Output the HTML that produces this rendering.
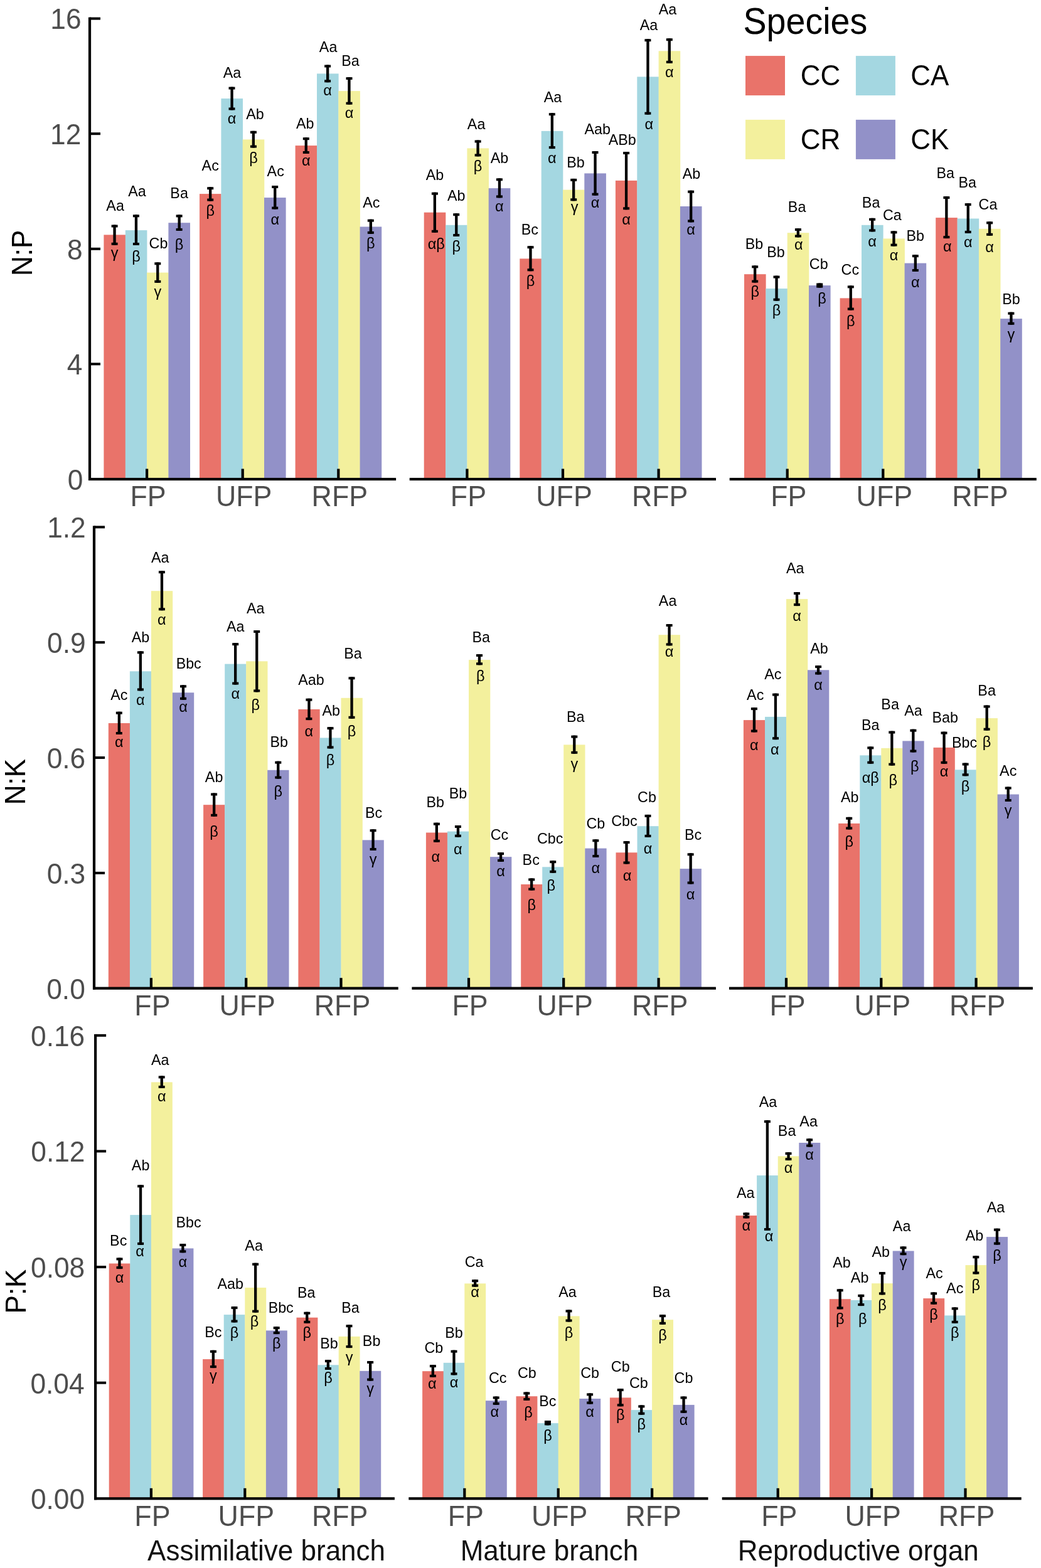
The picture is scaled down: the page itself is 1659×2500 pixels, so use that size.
<!DOCTYPE html>
<html><head><meta charset="utf-8"><title>N:P, N:K and P:K ratios</title>
<style>
html,body{margin:0;padding:0;background:#fff;}
svg{display:block;}
text{font-family:"Liberation Sans",Arial,Helvetica,sans-serif;}
.l{font-size:23.3px;text-anchor:middle;fill:#000;}
.g{font-size:23.5px;text-anchor:middle;fill:#000;}
.t{font-size:44.3px;text-anchor:end;fill:#4D4D4D;}
.x{font-size:44.7px;text-anchor:middle;fill:#4D4D4D;}
.yt{font-size:44px;text-anchor:middle;fill:#000;}
.lgt{font-size:55.6px;fill:#000;}
.lg{font-size:44px;fill:#000;}
.bt{font-size:44px;fill:#111;}
</style></head>
<body>
<svg xmlns="http://www.w3.org/2000/svg" width="1659" height="2500" viewBox="0 0 1659 2500">
<rect width="1659" height="2500" fill="#fff"/>
<g fill="#000">
<rect x="165.4" y="374.4" width="34.6" height="389.6" fill="#E9736A"/>
<rect x="199.8" y="367.1" width="34.6" height="396.9" fill="#A4D7E1"/>
<rect x="234.1" y="434.6" width="34.6" height="329.4" fill="#F3F09D"/>
<rect x="268.4" y="355.2" width="34.6" height="408.8" fill="#9291C8"/>
<rect x="318" y="309.1" width="34.6" height="454.9" fill="#E9736A"/>
<rect x="352.4" y="157.1" width="34.6" height="606.9" fill="#A4D7E1"/>
<rect x="386.7" y="222.4" width="34.6" height="541.6" fill="#F3F09D"/>
<rect x="421" y="315.1" width="34.6" height="448.9" fill="#9291C8"/>
<rect x="470.6" y="232.1" width="34.6" height="531.9" fill="#E9736A"/>
<rect x="505" y="117.4" width="34.6" height="646.6" fill="#A4D7E1"/>
<rect x="539.3" y="145.1" width="34.6" height="618.9" fill="#F3F09D"/>
<rect x="573.6" y="361.5" width="34.6" height="402.5" fill="#9291C8"/>
<rect x="675.7" y="338.7" width="34.6" height="425.3" fill="#E9736A"/>
<rect x="710.1" y="358.8" width="34.6" height="405.2" fill="#A4D7E1"/>
<rect x="744.4" y="236.4" width="34.6" height="527.6" fill="#F3F09D"/>
<rect x="778.7" y="300.1" width="34.6" height="463.9" fill="#9291C8"/>
<rect x="828.3" y="412.4" width="34.6" height="351.6" fill="#E9736A"/>
<rect x="862.7" y="208.9" width="34.6" height="555.1" fill="#A4D7E1"/>
<rect x="897" y="302.6" width="34.6" height="461.4" fill="#F3F09D"/>
<rect x="931.3" y="276.4" width="34.6" height="487.6" fill="#9291C8"/>
<rect x="980.9" y="287.9" width="34.6" height="476.1" fill="#E9736A"/>
<rect x="1015.3" y="122.4" width="34.6" height="641.6" fill="#A4D7E1"/>
<rect x="1049.6" y="81.3" width="34.6" height="682.7" fill="#F3F09D"/>
<rect x="1083.9" y="329" width="34.6" height="435" fill="#9291C8"/>
<rect x="1186" y="437.2" width="34.6" height="326.8" fill="#E9736A"/>
<rect x="1220.4" y="460.1" width="34.6" height="303.9" fill="#A4D7E1"/>
<rect x="1254.7" y="371.2" width="34.6" height="392.8" fill="#F3F09D"/>
<rect x="1289" y="455.1" width="34.6" height="308.9" fill="#9291C8"/>
<rect x="1338.6" y="475.4" width="34.6" height="288.6" fill="#E9736A"/>
<rect x="1373" y="358.8" width="34.6" height="405.2" fill="#A4D7E1"/>
<rect x="1407.3" y="380.4" width="34.6" height="383.6" fill="#F3F09D"/>
<rect x="1441.6" y="419.6" width="34.6" height="344.4" fill="#9291C8"/>
<rect x="1491.2" y="347.1" width="34.6" height="416.9" fill="#E9736A"/>
<rect x="1525.6" y="348.5" width="34.6" height="415.5" fill="#A4D7E1"/>
<rect x="1559.9" y="364.8" width="34.6" height="399.2" fill="#F3F09D"/>
<rect x="1594.2" y="508.1" width="34.6" height="255.9" fill="#9291C8"/>
<rect x="180.4" y="358.5" width="4.3" height="32.3"/>
<rect x="177.6" y="358.5" width="10" height="4"/>
<rect x="177.6" y="386.8" width="10" height="4"/>
<text class="l" transform="translate(183.6,336.4) scale(1,1.035)">Aa</text>
<text class="g" x="182.6" y="411.1">γ</text>
<rect x="214.8" y="342.3" width="4.3" height="48.7"/>
<rect x="211.9" y="342.3" width="10" height="4"/>
<rect x="211.9" y="387" width="10" height="4"/>
<text class="l" transform="translate(218.4,312.6) scale(1,1.035)">Aa</text>
<text class="g" x="216.9" y="416.7">β</text>
<rect x="249.1" y="418.3" width="4.3" height="32.6"/>
<rect x="246.3" y="418.3" width="10" height="4"/>
<rect x="246.3" y="446.9" width="10" height="4"/>
<text class="l" transform="translate(252.5,396.3) scale(1,1.035)">Cb</text>
<text class="g" x="251.3" y="473.4">γ</text>
<rect x="283.5" y="342.4" width="4.3" height="25.6"/>
<rect x="280.6" y="342.4" width="10" height="4"/>
<rect x="280.6" y="364" width="10" height="4"/>
<text class="l" transform="translate(285.6,316.2) scale(1,1.035)">Ba</text>
<text class="g" x="285.6" y="397.5">β</text>
<rect x="333" y="298.2" width="4.3" height="22.4"/>
<rect x="330.2" y="298.2" width="10" height="4"/>
<rect x="330.2" y="316.6" width="10" height="4"/>
<text class="l" transform="translate(335.2,271.7) scale(1,1.035)">Ac</text>
<text class="g" x="335.2" y="344.2">β</text>
<rect x="367.4" y="138.6" width="4.3" height="36.9"/>
<rect x="364.5" y="138.6" width="10" height="4"/>
<rect x="364.5" y="171.5" width="10" height="4"/>
<text class="l" transform="translate(370,123.5) scale(1,1.035)">Aa</text>
<text class="g" x="369.5" y="197.3">α</text>
<rect x="401.7" y="208.8" width="4.3" height="26.8"/>
<rect x="398.9" y="208.8" width="10" height="4"/>
<rect x="398.9" y="231.6" width="10" height="4"/>
<text class="l" transform="translate(406.4,190.4) scale(1,1.035)">Ab</text>
<text class="g" x="403.9" y="260">β</text>
<rect x="436.1" y="296" width="4.3" height="37.6"/>
<rect x="433.2" y="296" width="10" height="4"/>
<rect x="433.2" y="329.6" width="10" height="4"/>
<text class="l" transform="translate(439.2,280.9) scale(1,1.035)">Ac</text>
<text class="g" x="438.2" y="358.1">α</text>
<rect x="485.6" y="219.2" width="4.3" height="25.8"/>
<rect x="482.8" y="219.2" width="10" height="4"/>
<rect x="482.8" y="241" width="10" height="4"/>
<text class="l" transform="translate(486.3,204.9) scale(1,1.035)">Ab</text>
<text class="g" x="487.8" y="263.8">α</text>
<rect x="520" y="103.5" width="4.3" height="27.8"/>
<rect x="517.1" y="103.5" width="10" height="4"/>
<rect x="517.1" y="127.3" width="10" height="4"/>
<text class="l" transform="translate(523.1,83) scale(1,1.035)">Aa</text>
<text class="g" x="522.1" y="152">α</text>
<rect x="554.3" y="123.1" width="4.3" height="43.6"/>
<rect x="551.5" y="123.1" width="10" height="4"/>
<rect x="551.5" y="162.7" width="10" height="4"/>
<text class="l" transform="translate(558.5,105) scale(1,1.035)">Ba</text>
<text class="g" x="556.5" y="187.9">α</text>
<rect x="588.7" y="349.7" width="4.3" height="23.2"/>
<rect x="585.8" y="349.7" width="10" height="4"/>
<rect x="585.8" y="368.9" width="10" height="4"/>
<text class="l" transform="translate(591.8,330.9) scale(1,1.035)">Ac</text>
<text class="g" x="590.8" y="395.7">β</text>
<rect x="690.7" y="306.7" width="4.3" height="64.1"/>
<rect x="687.9" y="306.7" width="10" height="4"/>
<rect x="687.9" y="366.8" width="10" height="4"/>
<text class="l" transform="translate(692.9,287.1) scale(1,1.035)">Ab</text>
<text class="g" x="695.2" y="396.9">αβ</text>
<rect x="725.1" y="340.2" width="4.3" height="36.8"/>
<rect x="722.2" y="340.2" width="10" height="4"/>
<rect x="722.2" y="373" width="10" height="4"/>
<text class="l" transform="translate(727.2,320) scale(1,1.035)">Ab</text>
<text class="g" x="727.2" y="400.7">β</text>
<rect x="759.4" y="223.5" width="4.3" height="25.9"/>
<rect x="756.6" y="223.5" width="10" height="4"/>
<rect x="756.6" y="245.4" width="10" height="4"/>
<text class="l" transform="translate(759.1,205.8) scale(1,1.035)">Aa</text>
<text class="g" x="761.6" y="272.6">β</text>
<rect x="793.8" y="284.3" width="4.3" height="31.1"/>
<rect x="790.9" y="284.3" width="10" height="4"/>
<rect x="790.9" y="311.4" width="10" height="4"/>
<text class="l" transform="translate(795.9,259.9) scale(1,1.035)">Ab</text>
<text class="g" x="795.9" y="337">α</text>
<rect x="843.3" y="392.2" width="4.3" height="40.1"/>
<rect x="840.5" y="392.2" width="10" height="4"/>
<rect x="840.5" y="428.3" width="10" height="4"/>
<text class="l" transform="translate(844.3,373.8) scale(1,1.035)">Bc</text>
<text class="g" x="845.5" y="456.2">β</text>
<rect x="877.7" y="180.2" width="4.3" height="56.9"/>
<rect x="874.8" y="180.2" width="10" height="4"/>
<rect x="874.8" y="233.1" width="10" height="4"/>
<text class="l" transform="translate(881,163) scale(1,1.035)">Aa</text>
<text class="g" x="879.8" y="259.8">α</text>
<rect x="912" y="284.9" width="4.3" height="35.4"/>
<rect x="909.2" y="284.9" width="10" height="4"/>
<rect x="909.2" y="316.3" width="10" height="4"/>
<text class="l" transform="translate(917.5,266.8) scale(1,1.035)">Bb</text>
<text class="g" x="915.7" y="337.9">γ</text>
<rect x="946.4" y="241" width="4.3" height="70.7"/>
<rect x="943.5" y="241" width="10" height="4"/>
<rect x="943.5" y="307.7" width="10" height="4"/>
<text class="l" transform="translate(952.2,214.2) scale(1,1.035)">Aab</text>
<text class="g" x="948.5" y="331">α</text>
<rect x="995.9" y="242" width="4.3" height="92.3"/>
<rect x="993.1" y="242" width="10" height="4"/>
<rect x="993.1" y="330.3" width="10" height="4"/>
<text class="l" transform="translate(991.8,230.5) scale(1,1.035)">ABb</text>
<text class="g" x="998.1" y="357.9">α</text>
<rect x="1030.3" y="62.2" width="4.3" height="120.5"/>
<rect x="1027.4" y="62.2" width="10" height="4"/>
<rect x="1027.4" y="178.7" width="10" height="4"/>
<text class="l" transform="translate(1033.9,48.3) scale(1,1.035)">Aa</text>
<text class="g" x="1034.4" y="205.8">α</text>
<rect x="1064.6" y="61.2" width="4.3" height="39.7"/>
<rect x="1061.8" y="61.2" width="10" height="4"/>
<rect x="1061.8" y="96.9" width="10" height="4"/>
<text class="l" transform="translate(1064,23) scale(1,1.035)">Aa</text>
<text class="g" x="1066.8" y="122.6">α</text>
<rect x="1099" y="303.7" width="4.3" height="50.7"/>
<rect x="1096.1" y="303.7" width="10" height="4"/>
<rect x="1096.1" y="350.4" width="10" height="4"/>
<text class="l" transform="translate(1101.9,284.5) scale(1,1.035)">Ab</text>
<text class="g" x="1101.1" y="374.1">α</text>
<rect x="1201" y="423.4" width="4.3" height="27.2"/>
<rect x="1198.2" y="423.4" width="10" height="4"/>
<rect x="1198.2" y="446.6" width="10" height="4"/>
<text class="l" transform="translate(1202,397.1) scale(1,1.035)">Bb</text>
<text class="g" x="1203.2" y="473.3">β</text>
<rect x="1235.4" y="439.6" width="4.3" height="40.1"/>
<rect x="1232.5" y="439.6" width="10" height="4"/>
<rect x="1232.5" y="475.7" width="10" height="4"/>
<text class="l" transform="translate(1236.5,410) scale(1,1.035)">Bb</text>
<text class="g" x="1237.5" y="503">β</text>
<rect x="1269.7" y="364.1" width="4.3" height="14.3"/>
<rect x="1266.9" y="364.1" width="10" height="4"/>
<rect x="1266.9" y="374.4" width="10" height="4"/>
<text class="l" transform="translate(1270.1,338.2) scale(1,1.035)">Ba</text>
<text class="g" x="1272.9" y="398.2">α</text>
<rect x="1304.1" y="451.5" width="4.3" height="7.2"/>
<rect x="1301.2" y="451.5" width="10" height="4"/>
<rect x="1301.2" y="454.7" width="10" height="4"/>
<text class="l" transform="translate(1304.7,429.1) scale(1,1.035)">Cb</text>
<text class="g" x="1310" y="484.3">β</text>
<rect x="1353.6" y="455.4" width="4.3" height="39.2"/>
<rect x="1350.8" y="455.4" width="10" height="4"/>
<rect x="1350.8" y="490.6" width="10" height="4"/>
<text class="l" transform="translate(1354.8,438.2) scale(1,1.035)">Cc</text>
<text class="g" x="1355.8" y="519.7">β</text>
<rect x="1388" y="347.8" width="4.3" height="21.6"/>
<rect x="1385.1" y="347.8" width="10" height="4"/>
<rect x="1385.1" y="365.4" width="10" height="4"/>
<text class="l" transform="translate(1388.1,331.1) scale(1,1.035)">Ba</text>
<text class="g" x="1390.1" y="393">α</text>
<rect x="1422.3" y="368.4" width="4.3" height="24.2"/>
<rect x="1419.5" y="368.4" width="10" height="4"/>
<rect x="1419.5" y="388.6" width="10" height="4"/>
<text class="l" transform="translate(1421.9,351.2) scale(1,1.035)">Ca</text>
<text class="g" x="1424.5" y="414.5">α</text>
<rect x="1456.7" y="406.2" width="4.3" height="26.8"/>
<rect x="1453.8" y="406.2" width="10" height="4"/>
<rect x="1453.8" y="429" width="10" height="4"/>
<text class="l" transform="translate(1458.8,384.2) scale(1,1.035)">Bb</text>
<text class="g" x="1458.8" y="457.9">α</text>
<rect x="1506.2" y="313.1" width="4.3" height="67"/>
<rect x="1503.4" y="313.1" width="10" height="4"/>
<rect x="1503.4" y="376.1" width="10" height="4"/>
<text class="l" transform="translate(1506.7,284.4) scale(1,1.035)">Ba</text>
<text class="g" x="1509.9" y="401.3">α</text>
<rect x="1540.6" y="324.1" width="4.3" height="47.8"/>
<rect x="1537.7" y="324.1" width="10" height="4"/>
<rect x="1537.7" y="367.9" width="10" height="4"/>
<text class="l" transform="translate(1541.7,299.2) scale(1,1.035)">Ba</text>
<text class="g" x="1542.7" y="393.6">α</text>
<rect x="1574.9" y="353.3" width="4.3" height="22.5"/>
<rect x="1572.1" y="353.3" width="10" height="4"/>
<rect x="1572.1" y="371.8" width="10" height="4"/>
<text class="l" transform="translate(1574.5,333.7) scale(1,1.035)">Ca</text>
<text class="g" x="1577.1" y="401.7">α</text>
<rect x="1609.3" y="497.7" width="4.3" height="20.1"/>
<rect x="1606.4" y="497.7" width="10" height="4"/>
<rect x="1606.4" y="513.8" width="10" height="4"/>
<text class="l" transform="translate(1611.4,484.6) scale(1,1.035)">Bb</text>
<text class="g" x="1611.4" y="541.4">γ</text>
<rect x="140.9" y="27.6" width="4.2" height="738.4"/>
<text class="t" transform="translate(132.5,780.8) scale(1,1.03)">0</text>
<rect x="143" y="578.4" width="17" height="4"/>
<text class="t" transform="translate(131.3,597.2) scale(1,1.03)">4</text>
<rect x="143" y="394.8" width="17" height="4"/>
<text class="t" transform="translate(131.7,413.6) scale(1,1.03)">8</text>
<rect x="143" y="211.2" width="17" height="4"/>
<text class="t" transform="translate(129.3,230) scale(1,1.03)">12</text>
<rect x="143" y="27.6" width="17" height="4"/>
<text class="t" transform="translate(129.6,46.4) scale(1,1.03)">16</text>
<rect x="141" y="761.9" width="490.1" height="4.2"/>
<rect x="232" y="747.5" width="4.2" height="16.5"/>
<text class="x" transform="translate(236.1,807) scale(1,1.025)">FP</text>
<rect x="384.6" y="747.5" width="4.2" height="16.5"/>
<text class="x" transform="translate(388.7,807) scale(1,1.025)">UFP</text>
<rect x="537.2" y="747.5" width="4.2" height="16.5"/>
<text class="x" transform="translate(541.3,807) scale(1,1.025)">RFP</text>
<rect x="652.7" y="761.9" width="488.3" height="4.2"/>
<rect x="742.3" y="747.5" width="4.2" height="16.5"/>
<text class="x" transform="translate(746.4,807) scale(1,1.025)">FP</text>
<rect x="894.9" y="747.5" width="4.2" height="16.5"/>
<text class="x" transform="translate(899,807) scale(1,1.025)">UFP</text>
<rect x="1047.5" y="747.5" width="4.2" height="16.5"/>
<text class="x" transform="translate(1051.6,807) scale(1,1.025)">RFP</text>
<rect x="1162.7" y="761.9" width="489.1" height="4.2"/>
<rect x="1252.6" y="747.5" width="4.2" height="16.5"/>
<text class="x" transform="translate(1256.7,807) scale(1,1.025)">FP</text>
<rect x="1405.2" y="747.5" width="4.2" height="16.5"/>
<text class="x" transform="translate(1409.3,807) scale(1,1.025)">UFP</text>
<rect x="1557.8" y="747.5" width="4.2" height="16.5"/>
<text class="x" transform="translate(1561.9,807) scale(1,1.025)">RFP</text>
<text class="yt" transform="translate(50.5,403.4) rotate(-90) scale(1,1.04)">N:P</text>
<rect x="172.8" y="1153" width="34.3" height="422.7" fill="#E9736A"/>
<rect x="206.9" y="1070.3" width="34.3" height="505.4" fill="#A4D7E1"/>
<rect x="240.9" y="942.2" width="34.3" height="633.5" fill="#F3F09D"/>
<rect x="274.9" y="1104.3" width="34.3" height="471.4" fill="#9291C8"/>
<rect x="324.1" y="1283.2" width="34.3" height="292.5" fill="#E9736A"/>
<rect x="358.2" y="1058.6" width="34.3" height="517.1" fill="#A4D7E1"/>
<rect x="392.2" y="1054.3" width="34.3" height="521.4" fill="#F3F09D"/>
<rect x="426.2" y="1227.8" width="34.3" height="347.9" fill="#9291C8"/>
<rect x="475.4" y="1130.9" width="34.3" height="444.8" fill="#E9736A"/>
<rect x="509.5" y="1176.4" width="34.3" height="399.3" fill="#A4D7E1"/>
<rect x="543.5" y="1112.8" width="34.3" height="462.9" fill="#F3F09D"/>
<rect x="577.5" y="1339.4" width="34.3" height="236.3" fill="#9291C8"/>
<rect x="678.9" y="1327.5" width="34.3" height="248.2" fill="#E9736A"/>
<rect x="712.9" y="1325.6" width="34.3" height="250.1" fill="#A4D7E1"/>
<rect x="747" y="1052.1" width="34.3" height="523.6" fill="#F3F09D"/>
<rect x="781" y="1366.2" width="34.3" height="209.5" fill="#9291C8"/>
<rect x="830.2" y="1410" width="34.3" height="165.7" fill="#E9736A"/>
<rect x="864.2" y="1382.3" width="34.3" height="193.4" fill="#A4D7E1"/>
<rect x="898.2" y="1187.4" width="34.3" height="388.3" fill="#F3F09D"/>
<rect x="932.3" y="1352.6" width="34.3" height="223.1" fill="#9291C8"/>
<rect x="981.5" y="1359.3" width="34.3" height="216.4" fill="#E9736A"/>
<rect x="1015.5" y="1317.2" width="34.3" height="258.5" fill="#A4D7E1"/>
<rect x="1049.6" y="1012.2" width="34.3" height="563.5" fill="#F3F09D"/>
<rect x="1083.6" y="1385.1" width="34.3" height="190.6" fill="#9291C8"/>
<rect x="1184.9" y="1148.1" width="34.3" height="427.6" fill="#E9736A"/>
<rect x="1219" y="1142.9" width="34.3" height="432.8" fill="#A4D7E1"/>
<rect x="1253" y="955.1" width="34.3" height="620.6" fill="#F3F09D"/>
<rect x="1287" y="1068.3" width="34.3" height="507.4" fill="#9291C8"/>
<rect x="1336.2" y="1312.9" width="34.3" height="262.8" fill="#E9736A"/>
<rect x="1370.3" y="1204.3" width="34.3" height="371.4" fill="#A4D7E1"/>
<rect x="1404.3" y="1192.8" width="34.3" height="382.9" fill="#F3F09D"/>
<rect x="1438.3" y="1181.4" width="34.3" height="394.3" fill="#9291C8"/>
<rect x="1487.5" y="1191.9" width="34.3" height="383.8" fill="#E9736A"/>
<rect x="1521.6" y="1227.3" width="34.3" height="348.4" fill="#A4D7E1"/>
<rect x="1555.6" y="1145.1" width="34.3" height="430.6" fill="#F3F09D"/>
<rect x="1589.6" y="1266.5" width="34.3" height="309.2" fill="#9291C8"/>
<rect x="187.7" y="1134.7" width="4.3" height="36.3"/>
<rect x="184.8" y="1134.7" width="10" height="4"/>
<rect x="184.8" y="1167" width="10" height="4"/>
<text class="l" transform="translate(189.8,1115.8) scale(1,1.035)">Ac</text>
<text class="g" x="189.8" y="1191.3">α</text>
<rect x="221.7" y="1038.3" width="4.3" height="63.1"/>
<rect x="218.9" y="1038.3" width="10" height="4"/>
<rect x="218.9" y="1097.4" width="10" height="4"/>
<text class="l" transform="translate(223.9,1023.9) scale(1,1.035)">Ab</text>
<text class="g" x="223.9" y="1123.6">α</text>
<rect x="255.8" y="910.2" width="4.3" height="63.1"/>
<rect x="252.9" y="910.2" width="10" height="4"/>
<rect x="252.9" y="969.3" width="10" height="4"/>
<text class="l" transform="translate(255.3,897.3) scale(1,1.035)">Aa</text>
<text class="g" x="257.9" y="995.5">α</text>
<rect x="289.8" y="1092.3" width="4.3" height="23.5"/>
<rect x="287" y="1092.3" width="10" height="4"/>
<rect x="287" y="1111.8" width="10" height="4"/>
<text class="l" transform="translate(300.7,1066) scale(1,1.035)">Bbc</text>
<text class="g" x="292" y="1134.6">α</text>
<rect x="339" y="1264.5" width="4.3" height="37.3"/>
<rect x="336.1" y="1264.5" width="10" height="4"/>
<rect x="336.1" y="1297.8" width="10" height="4"/>
<text class="l" transform="translate(341.1,1247.3) scale(1,1.035)">Ab</text>
<text class="g" x="341.1" y="1334.1">β</text>
<rect x="373" y="1025.1" width="4.3" height="66.5"/>
<rect x="370.2" y="1025.1" width="10" height="4"/>
<rect x="370.2" y="1087.6" width="10" height="4"/>
<text class="l" transform="translate(375.2,1006.9) scale(1,1.035)">Aa</text>
<text class="g" x="375.2" y="1114.1">α</text>
<rect x="407.1" y="1005" width="4.3" height="98.4"/>
<rect x="404.2" y="1005" width="10" height="4"/>
<rect x="404.2" y="1099.4" width="10" height="4"/>
<text class="l" transform="translate(407.2,977.7) scale(1,1.035)">Aa</text>
<text class="g" x="407.2" y="1131.9">β</text>
<rect x="441.1" y="1213.7" width="4.3" height="27.9"/>
<rect x="438.3" y="1213.7" width="10" height="4"/>
<rect x="438.3" y="1237.6" width="10" height="4"/>
<text class="l" transform="translate(444.8,1191) scale(1,1.035)">Bb</text>
<text class="g" x="443.3" y="1270">β</text>
<rect x="490.3" y="1113.7" width="4.3" height="34.4"/>
<rect x="487.4" y="1113.7" width="10" height="4"/>
<rect x="487.4" y="1144.1" width="10" height="4"/>
<text class="l" transform="translate(495.9,1091.7) scale(1,1.035)">Aab</text>
<text class="g" x="492.4" y="1174.1">α</text>
<rect x="524.3" y="1159.1" width="4.3" height="34.4"/>
<rect x="521.5" y="1159.1" width="10" height="4"/>
<rect x="521.5" y="1189.5" width="10" height="4"/>
<text class="l" transform="translate(527.8,1141) scale(1,1.035)">Ab</text>
<text class="g" x="526.5" y="1219.6">β</text>
<rect x="558.4" y="1079.3" width="4.3" height="66.5"/>
<rect x="555.5" y="1079.3" width="10" height="4"/>
<rect x="555.5" y="1141.8" width="10" height="4"/>
<text class="l" transform="translate(562.5,1049.6) scale(1,1.035)">Ba</text>
<text class="g" x="560.5" y="1174.2">β</text>
<rect x="592.4" y="1322.2" width="4.3" height="33.8"/>
<rect x="589.6" y="1322.2" width="10" height="4"/>
<rect x="589.6" y="1352" width="10" height="4"/>
<text class="l" transform="translate(595.6,1303.7) scale(1,1.035)">Bc</text>
<text class="g" x="594.6" y="1378.3">γ</text>
<rect x="693.7" y="1311.7" width="4.3" height="31.1"/>
<rect x="690.9" y="1311.7" width="10" height="4"/>
<rect x="690.9" y="1338.8" width="10" height="4"/>
<text class="l" transform="translate(693.7,1286.8) scale(1,1.035)">Bb</text>
<text class="g" x="694.2" y="1373.6">α</text>
<rect x="727.8" y="1316" width="4.3" height="18.7"/>
<rect x="724.9" y="1316" width="10" height="4"/>
<rect x="724.9" y="1330.7" width="10" height="4"/>
<text class="l" transform="translate(729.9,1273) scale(1,1.035)">Bb</text>
<text class="g" x="729.9" y="1362.1">α</text>
<rect x="761.8" y="1043" width="4.3" height="17.3"/>
<rect x="759" y="1043" width="10" height="4"/>
<rect x="759" y="1056.3" width="10" height="4"/>
<text class="l" transform="translate(766.8,1023.9) scale(1,1.035)">Ba</text>
<text class="g" x="765.7" y="1085.9">β</text>
<rect x="795.9" y="1359.1" width="4.3" height="14.8"/>
<rect x="793" y="1359.1" width="10" height="4"/>
<rect x="793" y="1369.9" width="10" height="4"/>
<text class="l" transform="translate(796,1338.5) scale(1,1.035)">Cc</text>
<text class="g" x="798" y="1396.5">α</text>
<rect x="845" y="1400.4" width="4.3" height="19.2"/>
<rect x="842.2" y="1400.4" width="10" height="4"/>
<rect x="842.2" y="1415.6" width="10" height="4"/>
<text class="l" transform="translate(846.2,1378.9) scale(1,1.035)">Bc</text>
<text class="g" x="847.2" y="1450.9">β</text>
<rect x="879.1" y="1372.2" width="4.3" height="19.6"/>
<rect x="876.2" y="1372.2" width="10" height="4"/>
<rect x="876.2" y="1387.8" width="10" height="4"/>
<text class="l" transform="translate(876.7,1345) scale(1,1.035)">Cbc</text>
<text class="g" x="878.2" y="1420.3">β</text>
<rect x="913.1" y="1172.6" width="4.3" height="29.2"/>
<rect x="910.3" y="1172.6" width="10" height="4"/>
<rect x="910.3" y="1197.8" width="10" height="4"/>
<text class="l" transform="translate(917.3,1151) scale(1,1.035)">Ba</text>
<text class="g" x="915.3" y="1225.6">γ</text>
<rect x="947.2" y="1338.3" width="4.3" height="28.7"/>
<rect x="944.3" y="1338.3" width="10" height="4"/>
<rect x="944.3" y="1363" width="10" height="4"/>
<text class="l" transform="translate(949.3,1321) scale(1,1.035)">Cb</text>
<text class="g" x="949.3" y="1392">α</text>
<rect x="996.3" y="1341.1" width="4.3" height="36.4"/>
<rect x="993.5" y="1341.1" width="10" height="4"/>
<rect x="993.5" y="1373.5" width="10" height="4"/>
<text class="l" transform="translate(994.9,1317.4) scale(1,1.035)">Cbc</text>
<text class="g" x="999.5" y="1404">α</text>
<rect x="1030.4" y="1298.9" width="4.3" height="36"/>
<rect x="1027.5" y="1298.9" width="10" height="4"/>
<rect x="1027.5" y="1330.9" width="10" height="4"/>
<text class="l" transform="translate(1031,1278.8) scale(1,1.035)">Cb</text>
<text class="g" x="1032.5" y="1361.4">α</text>
<rect x="1064.4" y="995" width="4.3" height="34.4"/>
<rect x="1061.6" y="995" width="10" height="4"/>
<rect x="1061.6" y="1025.4" width="10" height="4"/>
<text class="l" transform="translate(1064.1,965.8) scale(1,1.035)">Aa</text>
<text class="g" x="1066.6" y="1047.3">α</text>
<rect x="1098.5" y="1360.3" width="4.3" height="49.2"/>
<rect x="1095.6" y="1360.3" width="10" height="4"/>
<rect x="1095.6" y="1405.5" width="10" height="4"/>
<text class="l" transform="translate(1104.6,1338.7) scale(1,1.035)">Bc</text>
<text class="g" x="1100.6" y="1433.6">α</text>
<rect x="1199.8" y="1128.1" width="4.3" height="39.4"/>
<rect x="1196.9" y="1128.1" width="10" height="4"/>
<rect x="1196.9" y="1163.5" width="10" height="4"/>
<text class="l" transform="translate(1203.7,1115.7) scale(1,1.035)">Ac</text>
<text class="g" x="1201.9" y="1195.6">α</text>
<rect x="1233.8" y="1105.6" width="4.3" height="73.6"/>
<rect x="1231" y="1105.6" width="10" height="4"/>
<rect x="1231" y="1175.2" width="10" height="4"/>
<text class="l" transform="translate(1231.8,1082.7) scale(1,1.035)">Ac</text>
<text class="g" x="1234.8" y="1202.8">α</text>
<rect x="1267.9" y="944.1" width="4.3" height="22"/>
<rect x="1265" y="944.1" width="10" height="4"/>
<rect x="1265" y="962.1" width="10" height="4"/>
<text class="l" transform="translate(1267.2,914.4) scale(1,1.035)">Aa</text>
<text class="g" x="1270" y="989.7">α</text>
<rect x="1301.9" y="1061.1" width="4.3" height="14.4"/>
<rect x="1299.1" y="1061.1" width="10" height="4"/>
<rect x="1299.1" y="1071.5" width="10" height="4"/>
<text class="l" transform="translate(1305.4,1041.5) scale(1,1.035)">Ab</text>
<text class="g" x="1304.1" y="1099.6">α</text>
<rect x="1351.1" y="1302.8" width="4.3" height="19.7"/>
<rect x="1348.2" y="1302.8" width="10" height="4"/>
<rect x="1348.2" y="1318.5" width="10" height="4"/>
<text class="l" transform="translate(1354.2,1278.9) scale(1,1.035)">Ab</text>
<text class="g" x="1353.2" y="1350">β</text>
<rect x="1385.1" y="1190.4" width="4.3" height="27.3"/>
<rect x="1382.3" y="1190.4" width="10" height="4"/>
<rect x="1382.3" y="1213.7" width="10" height="4"/>
<text class="l" transform="translate(1387.3,1164.1) scale(1,1.035)">Ba</text>
<text class="g" x="1387.3" y="1247.6">αβ</text>
<rect x="1419.2" y="1165.6" width="4.3" height="55"/>
<rect x="1416.3" y="1165.6" width="10" height="4"/>
<rect x="1416.3" y="1216.6" width="10" height="4"/>
<text class="l" transform="translate(1418.6,1131.1) scale(1,1.035)">Ba</text>
<text class="g" x="1423.3" y="1251.9">β</text>
<rect x="1453.2" y="1162.7" width="4.3" height="36.8"/>
<rect x="1450.4" y="1162.7" width="10" height="4"/>
<rect x="1450.4" y="1195.5" width="10" height="4"/>
<text class="l" transform="translate(1455.4,1141.2) scale(1,1.035)">Aa</text>
<text class="g" x="1457.8" y="1230">β</text>
<rect x="1502.4" y="1166.6" width="4.3" height="51.2"/>
<rect x="1499.5" y="1166.6" width="10" height="4"/>
<rect x="1499.5" y="1213.8" width="10" height="4"/>
<text class="l" transform="translate(1506.3,1152.2) scale(1,1.035)">Bab</text>
<text class="g" x="1504.5" y="1238">α</text>
<rect x="1536.4" y="1216.5" width="4.3" height="20.8"/>
<rect x="1533.6" y="1216.5" width="10" height="4"/>
<rect x="1533.6" y="1233.3" width="10" height="4"/>
<text class="l" transform="translate(1537.1,1191.5) scale(1,1.035)">Bbc</text>
<text class="g" x="1538.6" y="1262">β</text>
<rect x="1570.5" y="1124.5" width="4.3" height="40.2"/>
<rect x="1567.6" y="1124.5" width="10" height="4"/>
<rect x="1567.6" y="1160.7" width="10" height="4"/>
<text class="l" transform="translate(1572.6,1109.2) scale(1,1.035)">Ba</text>
<text class="g" x="1572.6" y="1191.2">β</text>
<rect x="1604.5" y="1254.5" width="4.3" height="23.5"/>
<rect x="1601.7" y="1254.5" width="10" height="4"/>
<rect x="1601.7" y="1274" width="10" height="4"/>
<text class="l" transform="translate(1606.7,1236.8) scale(1,1.035)">Ac</text>
<text class="g" x="1606.7" y="1299.9">γ</text>
<rect x="147.9" y="838.4" width="4.2" height="739.3"/>
<text class="t" transform="translate(135.8,1592.5) scale(1,1.03)">0.0</text>
<rect x="150" y="1389.9" width="17" height="4"/>
<text class="t" transform="translate(136.2,1408.7) scale(1,1.03)">0.3</text>
<rect x="150" y="1206" width="17" height="4"/>
<text class="t" transform="translate(136.2,1224.8) scale(1,1.03)">0.6</text>
<rect x="150" y="1022.2" width="17" height="4"/>
<text class="t" transform="translate(136.6,1041) scale(1,1.03)">0.9</text>
<rect x="150" y="838.4" width="17" height="4"/>
<text class="t" transform="translate(136.7,857.2) scale(1,1.03)">1.2</text>
<rect x="148" y="1573.6" width="486.7" height="4.2"/>
<rect x="238.8" y="1559.2" width="4.2" height="16.5"/>
<text class="x" transform="translate(242.9,1618.5) scale(1,1.025)">FP</text>
<rect x="390.1" y="1559.2" width="4.2" height="16.5"/>
<text class="x" transform="translate(394.2,1618.5) scale(1,1.025)">UFP</text>
<rect x="541.4" y="1559.2" width="4.2" height="16.5"/>
<text class="x" transform="translate(545.5,1618.5) scale(1,1.025)">RFP</text>
<rect x="656.4" y="1573.6" width="484.5" height="4.2"/>
<rect x="744.9" y="1559.2" width="4.2" height="16.5"/>
<text class="x" transform="translate(749,1618.5) scale(1,1.025)">FP</text>
<rect x="896.1" y="1559.2" width="4.2" height="16.5"/>
<text class="x" transform="translate(900.2,1618.5) scale(1,1.025)">UFP</text>
<rect x="1047.5" y="1559.2" width="4.2" height="16.5"/>
<text class="x" transform="translate(1051.6,1618.5) scale(1,1.025)">RFP</text>
<rect x="1162" y="1573.6" width="483.9" height="4.2"/>
<rect x="1250.9" y="1559.2" width="4.2" height="16.5"/>
<text class="x" transform="translate(1255,1618.5) scale(1,1.025)">FP</text>
<rect x="1402.2" y="1559.2" width="4.2" height="16.5"/>
<text class="x" transform="translate(1406.3,1618.5) scale(1,1.025)">UFP</text>
<rect x="1553.5" y="1559.2" width="4.2" height="16.5"/>
<text class="x" transform="translate(1557.6,1618.5) scale(1,1.025)">RFP</text>
<text class="yt" transform="translate(40.3,1246.5) rotate(-90) scale(1,1.04)">N:K</text>
<rect x="173.7" y="2014.5" width="33.9" height="374.8" fill="#E9736A"/>
<rect x="207.3" y="1937.1" width="33.9" height="452.2" fill="#A4D7E1"/>
<rect x="240.9" y="1725.4" width="33.9" height="663.9" fill="#F3F09D"/>
<rect x="274.5" y="1990.4" width="33.9" height="398.9" fill="#9291C8"/>
<rect x="323.1" y="2167.1" width="33.9" height="222.2" fill="#E9736A"/>
<rect x="356.7" y="2096.1" width="33.9" height="293.2" fill="#A4D7E1"/>
<rect x="390.3" y="2053" width="33.9" height="336.3" fill="#F3F09D"/>
<rect x="423.9" y="2121.4" width="33.9" height="267.9" fill="#9291C8"/>
<rect x="472.5" y="2100.7" width="33.9" height="288.6" fill="#E9736A"/>
<rect x="506.1" y="2176.3" width="33.9" height="213" fill="#A4D7E1"/>
<rect x="539.7" y="2130.9" width="33.9" height="258.4" fill="#F3F09D"/>
<rect x="573.3" y="2185.8" width="33.9" height="203.5" fill="#9291C8"/>
<rect x="673.1" y="2186.2" width="33.9" height="203.1" fill="#E9736A"/>
<rect x="706.7" y="2172.8" width="33.9" height="216.5" fill="#A4D7E1"/>
<rect x="740.3" y="2046.4" width="33.9" height="342.9" fill="#F3F09D"/>
<rect x="773.9" y="2233.2" width="33.9" height="156.1" fill="#9291C8"/>
<rect x="822.5" y="2226.2" width="33.9" height="163.1" fill="#E9736A"/>
<rect x="856.1" y="2269.1" width="33.9" height="120.2" fill="#A4D7E1"/>
<rect x="889.7" y="2098.4" width="33.9" height="290.9" fill="#F3F09D"/>
<rect x="923.3" y="2230" width="33.9" height="159.3" fill="#9291C8"/>
<rect x="971.9" y="2228.4" width="33.9" height="160.9" fill="#E9736A"/>
<rect x="1005.5" y="2248.1" width="33.9" height="141.2" fill="#A4D7E1"/>
<rect x="1039.1" y="2104.2" width="33.9" height="285.1" fill="#F3F09D"/>
<rect x="1072.7" y="2239.9" width="33.9" height="149.4" fill="#9291C8"/>
<rect x="1172.5" y="1938.1" width="33.9" height="451.2" fill="#E9736A"/>
<rect x="1206.1" y="1874.1" width="33.9" height="515.2" fill="#A4D7E1"/>
<rect x="1239.7" y="1843.4" width="33.9" height="545.9" fill="#F3F09D"/>
<rect x="1273.3" y="1822" width="33.9" height="567.3" fill="#9291C8"/>
<rect x="1321.9" y="2071.2" width="33.9" height="318.1" fill="#E9736A"/>
<rect x="1355.5" y="2073" width="33.9" height="316.3" fill="#A4D7E1"/>
<rect x="1389.1" y="2046.2" width="33.9" height="343.1" fill="#F3F09D"/>
<rect x="1422.7" y="1994.5" width="33.9" height="394.8" fill="#9291C8"/>
<rect x="1471.3" y="2070.1" width="33.9" height="319.2" fill="#E9736A"/>
<rect x="1504.9" y="2097.4" width="33.9" height="291.9" fill="#A4D7E1"/>
<rect x="1538.5" y="2017.1" width="33.9" height="372.2" fill="#F3F09D"/>
<rect x="1572.1" y="1972.1" width="33.9" height="417.2" fill="#9291C8"/>
<rect x="188.3" y="2005.4" width="4.3" height="17.7"/>
<rect x="185.5" y="2005.4" width="10" height="4"/>
<rect x="185.5" y="2019.1" width="10" height="4"/>
<text class="l" transform="translate(188.7,1985.8) scale(1,1.035)">Bc</text>
<text class="g" x="190.5" y="2045.3">α</text>
<rect x="221.9" y="1889.3" width="4.3" height="95.6"/>
<rect x="219.1" y="1889.3" width="10" height="4"/>
<rect x="219.1" y="1980.9" width="10" height="4"/>
<text class="l" transform="translate(224.1,1866.4) scale(1,1.035)">Ab</text>
<text class="g" x="223.1" y="2003.2">α</text>
<rect x="255.6" y="1715.4" width="4.3" height="19.6"/>
<rect x="252.7" y="1715.4" width="10" height="4"/>
<rect x="252.7" y="1731" width="10" height="4"/>
<text class="l" transform="translate(255.3,1697.7) scale(1,1.035)">Aa</text>
<text class="g" x="257.7" y="1756.2">α</text>
<rect x="289.2" y="1983" width="4.3" height="14.3"/>
<rect x="286.3" y="1983" width="10" height="4"/>
<rect x="286.3" y="1993.3" width="10" height="4"/>
<text class="l" transform="translate(300.6,1956.8) scale(1,1.035)">Bbc</text>
<text class="g" x="291.3" y="2019.5">α</text>
<rect x="337.7" y="2152.8" width="4.3" height="28.3"/>
<rect x="334.9" y="2152.8" width="10" height="4"/>
<rect x="334.9" y="2177.1" width="10" height="4"/>
<text class="l" transform="translate(339.9,2132.4) scale(1,1.035)">Bc</text>
<text class="g" x="339.9" y="2200.5">γ</text>
<rect x="371.3" y="2083.1" width="4.3" height="25.4"/>
<rect x="368.5" y="2083.1" width="10" height="4"/>
<rect x="368.5" y="2104.5" width="10" height="4"/>
<text class="l" transform="translate(367.3,2055.4) scale(1,1.035)">Aab</text>
<text class="g" x="373.5" y="2133.1">β</text>
<rect x="405" y="2013.7" width="4.3" height="79"/>
<rect x="402.1" y="2013.7" width="10" height="4"/>
<rect x="402.1" y="2088.7" width="10" height="4"/>
<text class="l" transform="translate(404.6,1994.1) scale(1,1.035)">Aa</text>
<text class="g" x="405.6" y="2115">β</text>
<rect x="438.6" y="2115.2" width="4.3" height="11.9"/>
<rect x="435.7" y="2115.2" width="10" height="4"/>
<rect x="435.7" y="2123.1" width="10" height="4"/>
<text class="l" transform="translate(447.7,2092.7) scale(1,1.035)">Bbc</text>
<text class="g" x="440.7" y="2149.9">β</text>
<rect x="487.1" y="2091.7" width="4.3" height="18.1"/>
<rect x="484.3" y="2091.7" width="10" height="4"/>
<rect x="484.3" y="2105.8" width="10" height="4"/>
<text class="l" transform="translate(488.3,2068.7) scale(1,1.035)">Ba</text>
<text class="g" x="489.3" y="2132.6">β</text>
<rect x="520.7" y="2168.1" width="4.3" height="15.9"/>
<rect x="517.9" y="2168.1" width="10" height="4"/>
<rect x="517.9" y="2180" width="10" height="4"/>
<text class="l" transform="translate(524.4,2149.5) scale(1,1.035)">Bb</text>
<text class="g" x="522.9" y="2204.7">β</text>
<rect x="554.4" y="2112.2" width="4.3" height="36.9"/>
<rect x="551.5" y="2112.2" width="10" height="4"/>
<rect x="551.5" y="2145.1" width="10" height="4"/>
<text class="l" transform="translate(558.5,2093.1) scale(1,1.035)">Ba</text>
<text class="g" x="556.5" y="2171.5">γ</text>
<rect x="588" y="2170" width="4.3" height="31.6"/>
<rect x="585.1" y="2170" width="10" height="4"/>
<rect x="585.1" y="2197.6" width="10" height="4"/>
<text class="l" transform="translate(592.1,2146.2) scale(1,1.035)">Bb</text>
<text class="g" x="590.1" y="2221.7">γ</text>
<rect x="687.7" y="2176.1" width="4.3" height="19.7"/>
<rect x="684.9" y="2176.1" width="10" height="4"/>
<rect x="684.9" y="2191.8" width="10" height="4"/>
<text class="l" transform="translate(691.4,2157) scale(1,1.035)">Cb</text>
<text class="g" x="688.7" y="2213.6">α</text>
<rect x="721.3" y="2152.7" width="4.3" height="39.7"/>
<rect x="718.5" y="2152.7" width="10" height="4"/>
<rect x="718.5" y="2188.4" width="10" height="4"/>
<text class="l" transform="translate(723.5,2132.6) scale(1,1.035)">Bb</text>
<text class="g" x="723.5" y="2212.2">α</text>
<rect x="755" y="2040.2" width="4.3" height="11.5"/>
<rect x="752.1" y="2040.2" width="10" height="4"/>
<rect x="752.1" y="2047.7" width="10" height="4"/>
<text class="l" transform="translate(755.6,2020.1) scale(1,1.035)">Ca</text>
<text class="g" x="757.1" y="2068.1">α</text>
<rect x="788.6" y="2226.5" width="4.3" height="13.4"/>
<rect x="785.7" y="2226.5" width="10" height="4"/>
<rect x="785.7" y="2235.9" width="10" height="4"/>
<text class="l" transform="translate(793.2,2204.8) scale(1,1.035)">Cc</text>
<text class="g" x="788.3" y="2258.5">α</text>
<rect x="837.1" y="2219.5" width="4.3" height="13.4"/>
<rect x="834.3" y="2219.5" width="10" height="4"/>
<rect x="834.3" y="2228.9" width="10" height="4"/>
<text class="l" transform="translate(839.8,2196.5) scale(1,1.035)">Cb</text>
<text class="g" x="842" y="2259.5">β</text>
<rect x="870.7" y="2265" width="4.3" height="7.4"/>
<rect x="867.9" y="2265" width="10" height="4"/>
<rect x="867.9" y="2268.4" width="10" height="4"/>
<text class="l" transform="translate(872.9,2242) scale(1,1.035)">Bc</text>
<text class="g" x="872.9" y="2297.3">β</text>
<rect x="904.4" y="2088.4" width="4.3" height="19.1"/>
<rect x="901.5" y="2088.4" width="10" height="4"/>
<rect x="901.5" y="2103.5" width="10" height="4"/>
<text class="l" transform="translate(904.5,2068.3) scale(1,1.035)">Aa</text>
<text class="g" x="906.5" y="2132.7">β</text>
<rect x="938" y="2221.4" width="4.3" height="17.2"/>
<rect x="935.1" y="2221.4" width="10" height="4"/>
<rect x="935.1" y="2234.6" width="10" height="4"/>
<text class="l" transform="translate(940.1,2196.5) scale(1,1.035)">Cb</text>
<text class="g" x="940.1" y="2258.9">α</text>
<rect x="986.5" y="2214.1" width="4.3" height="28.2"/>
<rect x="983.7" y="2214.1" width="10" height="4"/>
<rect x="983.7" y="2238.3" width="10" height="4"/>
<text class="l" transform="translate(988.7,2186.8) scale(1,1.035)">Cb</text>
<text class="g" x="988.7" y="2263.6">β</text>
<rect x="1020.1" y="2240.4" width="4.3" height="15.3"/>
<rect x="1017.3" y="2240.4" width="10" height="4"/>
<rect x="1017.3" y="2251.7" width="10" height="4"/>
<text class="l" transform="translate(1017.8,2212.7) scale(1,1.035)">Cb</text>
<text class="g" x="1022.3" y="2279.4">β</text>
<rect x="1053.8" y="2096.1" width="4.3" height="15.7"/>
<rect x="1050.9" y="2096.1" width="10" height="4"/>
<rect x="1050.9" y="2107.8" width="10" height="4"/>
<text class="l" transform="translate(1053.9,2068.3) scale(1,1.035)">Ba</text>
<text class="g" x="1055.9" y="2137.4">β</text>
<rect x="1087.4" y="2226.5" width="4.3" height="26.3"/>
<rect x="1084.5" y="2226.5" width="10" height="4"/>
<rect x="1084.5" y="2248.8" width="10" height="4"/>
<text class="l" transform="translate(1089.5,2204.5) scale(1,1.035)">Cb</text>
<text class="g" x="1089.5" y="2272.1">α</text>
<rect x="1187.1" y="1933.4" width="4.3" height="9.1"/>
<rect x="1184.3" y="1933.4" width="10" height="4"/>
<rect x="1184.3" y="1938.5" width="10" height="4"/>
<text class="l" transform="translate(1188.3,1909.9) scale(1,1.035)">Aa</text>
<text class="g" x="1189.3" y="1962.2">α</text>
<rect x="1220.7" y="1786.2" width="4.3" height="175.8"/>
<rect x="1217.9" y="1786.2" width="10" height="4"/>
<rect x="1217.9" y="1958" width="10" height="4"/>
<text class="l" transform="translate(1223.9,1764.7) scale(1,1.035)">Aa</text>
<text class="g" x="1225.6" y="1978.6">α</text>
<rect x="1254.4" y="1837.2" width="4.3" height="12.9"/>
<rect x="1251.5" y="1837.2" width="10" height="4"/>
<rect x="1251.5" y="1846.1" width="10" height="4"/>
<text class="l" transform="translate(1254.1,1810.6) scale(1,1.035)">Ba</text>
<text class="g" x="1256.5" y="1870.4">α</text>
<rect x="1288" y="1815.4" width="4.3" height="13.2"/>
<rect x="1285.1" y="1815.4" width="10" height="4"/>
<rect x="1285.1" y="1824.6" width="10" height="4"/>
<text class="l" transform="translate(1288.6,1795.8) scale(1,1.035)">Aa</text>
<text class="g" x="1290.1" y="1848.9">α</text>
<rect x="1336.5" y="2055.3" width="4.3" height="32.1"/>
<rect x="1333.7" y="2055.3" width="10" height="4"/>
<rect x="1333.7" y="2083.4" width="10" height="4"/>
<text class="l" transform="translate(1341.5,2020.8) scale(1,1.035)">Ab</text>
<text class="g" x="1338.7" y="2110.6">β</text>
<rect x="1370.1" y="2063.9" width="4.3" height="18.2"/>
<rect x="1367.3" y="2063.9" width="10" height="4"/>
<rect x="1367.3" y="2078.1" width="10" height="4"/>
<text class="l" transform="translate(1370.1,2044.8) scale(1,1.035)">Ab</text>
<text class="g" x="1374.7" y="2110.6">β</text>
<rect x="1403.8" y="2028" width="4.3" height="36.4"/>
<rect x="1400.9" y="2028" width="10" height="4"/>
<rect x="1400.9" y="2060.4" width="10" height="4"/>
<text class="l" transform="translate(1403.7,2003.6) scale(1,1.035)">Ab</text>
<text class="g" x="1405.9" y="2088.6">β</text>
<rect x="1437.4" y="1987.4" width="4.3" height="13.8"/>
<rect x="1434.5" y="1987.4" width="10" height="4"/>
<rect x="1434.5" y="1997.2" width="10" height="4"/>
<text class="l" transform="translate(1437.1,1962.5) scale(1,1.035)">Aa</text>
<text class="g" x="1439.5" y="2019.8">γ</text>
<rect x="1485.9" y="2060.4" width="4.3" height="19.3"/>
<rect x="1483.1" y="2060.4" width="10" height="4"/>
<rect x="1483.1" y="2075.7" width="10" height="4"/>
<text class="l" transform="translate(1489.1,2038.1) scale(1,1.035)">Ac</text>
<text class="g" x="1488.1" y="2103.8">β</text>
<rect x="1519.5" y="2084.4" width="4.3" height="25.4"/>
<rect x="1516.7" y="2084.4" width="10" height="4"/>
<rect x="1516.7" y="2105.8" width="10" height="4"/>
<text class="l" transform="translate(1521.7,2061.6) scale(1,1.035)">Ac</text>
<text class="g" x="1521.7" y="2132.5">β</text>
<rect x="1553.2" y="2002.3" width="4.3" height="29.2"/>
<rect x="1550.3" y="2002.3" width="10" height="4"/>
<rect x="1550.3" y="2027.5" width="10" height="4"/>
<text class="l" transform="translate(1552.9,1977.9) scale(1,1.035)">Ab</text>
<text class="g" x="1555.3" y="2056.6">β</text>
<rect x="1586.8" y="1958.7" width="4.3" height="25.9"/>
<rect x="1583.9" y="1958.7" width="10" height="4"/>
<rect x="1583.9" y="1980.6" width="10" height="4"/>
<text class="l" transform="translate(1586.9,1932.9) scale(1,1.035)">Aa</text>
<text class="g" x="1588.9" y="2009.7">β</text>
<rect x="150" y="1648.9" width="4.2" height="742.4"/>
<text class="t" transform="translate(135.1,2406.1) scale(1,1.03)">0.00</text>
<rect x="152.1" y="2202.7" width="17" height="4"/>
<text class="t" transform="translate(134.6,2221.5) scale(1,1.03)">0.04</text>
<rect x="152.1" y="2018.1" width="17" height="4"/>
<text class="t" transform="translate(135.2,2036.9) scale(1,1.03)">0.08</text>
<rect x="152.1" y="1833.5" width="17" height="4"/>
<text class="t" transform="translate(135.5,1852.3) scale(1,1.03)">0.12</text>
<rect x="152.1" y="1648.9" width="17" height="4"/>
<text class="t" transform="translate(135.2,1667.7) scale(1,1.03)">0.16</text>
<rect x="150" y="2387.2" width="478.9" height="4.2"/>
<rect x="238.8" y="2372.8" width="4.2" height="16.5"/>
<text class="x" transform="translate(242.9,2433.4) scale(1,1.025)">FP</text>
<rect x="388.2" y="2372.8" width="4.2" height="16.5"/>
<text class="x" transform="translate(392.3,2433.4) scale(1,1.025)">UFP</text>
<rect x="537.6" y="2372.8" width="4.2" height="16.5"/>
<text class="x" transform="translate(541.7,2433.4) scale(1,1.025)">RFP</text>
<rect x="651.3" y="2387.2" width="477.2" height="4.2"/>
<rect x="738.2" y="2372.8" width="4.2" height="16.5"/>
<text class="x" transform="translate(742.3,2433.4) scale(1,1.025)">FP</text>
<rect x="887.6" y="2372.8" width="4.2" height="16.5"/>
<text class="x" transform="translate(891.7,2433.4) scale(1,1.025)">UFP</text>
<rect x="1037" y="2372.8" width="4.2" height="16.5"/>
<text class="x" transform="translate(1041.1,2433.4) scale(1,1.025)">RFP</text>
<rect x="1150.7" y="2387.2" width="477" height="4.2"/>
<rect x="1237.6" y="2372.8" width="4.2" height="16.5"/>
<text class="x" transform="translate(1241.7,2433.4) scale(1,1.025)">FP</text>
<rect x="1387" y="2372.8" width="4.2" height="16.5"/>
<text class="x" transform="translate(1391.1,2433.4) scale(1,1.025)">UFP</text>
<rect x="1536.4" y="2372.8" width="4.2" height="16.5"/>
<text class="x" transform="translate(1540.5,2433.4) scale(1,1.025)">RFP</text>
<text class="yt" transform="translate(41,2059) rotate(-90) scale(1,1.04)">P:K</text>
</g>

<text class="lgt" transform="translate(1184.5,54.3) scale(1,1.05)">Species</text>
<rect x="1188" y="89.1" width="63" height="63" fill="#E9736A"/>
<rect x="1363.9" y="89.1" width="63" height="63" fill="#A4D7E1"/>
<rect x="1188" y="190.9" width="63" height="63" fill="#F3F09D"/>
<rect x="1363.9" y="190.9" width="63" height="63" fill="#9291C8"/>
<text class="lg" transform="translate(1275.7,136.3) scale(1,1.07)">CC</text>
<text class="lg" transform="translate(1451.2,136.3) scale(1,1.07)">CA</text>
<text class="lg" transform="translate(1275.7,238) scale(1,1.07)">CR</text>
<text class="lg" transform="translate(1451.2,238) scale(1,1.07)">CK</text>
<text class="bt" transform="translate(235.1,2488) scale(1,1.06)">Assimilative branch</text>
<text class="bt" transform="translate(733.7,2488) scale(1,1.06)">Mature branch</text>
<text class="bt" transform="translate(1175.7,2488) scale(1,1.06)">Reproductive organ</text>

</svg>
</body></html>
